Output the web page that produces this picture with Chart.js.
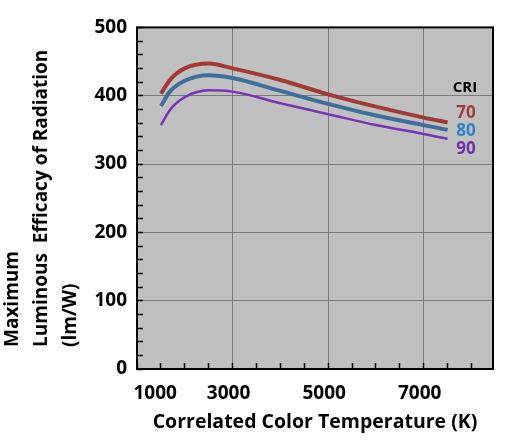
<!DOCTYPE html>
<html>
<head>
<meta charset="utf-8">
<script src="https://cdn.jsdelivr.net/npm/chart.js@4"></script>
<style>
  html, body { margin: 0; padding: 0; background: #fff; }
  #wrap { width: 505px; height: 441px; }
</style>
</head>
<body>
<div id="wrap"><canvas id="grafico"></canvas></div>
<script>
// dados
const temperaturas = [1500, 1700, 2000, 2500, 3000, 4000, 5000, 6000, 7000, 7500];
const cri70 = [403, 424, 440, 447, 440, 423, 402, 384, 368, 361];
const cri80 = [385, 407, 422, 430, 426, 407, 388, 371, 357, 350];
const cri90 = [357, 380, 398, 408, 406, 389, 373, 357, 344, 337];
const rotulosX = [1000, 3000, 5000, 7000];
const rotulosY = [0, 100, 200, 300, 400, 500];
const nomesCri = ['70', '80', '90'];
const coresCri = ['#a23b36', '#3e6e9c', '#7a35b5'];
const coresTexto = ['#a0403c', '#2e82c8', '#7030a8'];

// marcas pequenas dos eixos (a cada 500 K e a cada 20 lm/W)
const marcasX = [];
for (let v = 1000; v <= 8000; v += 500) marcasX.push(v);
const marcasY = [];
for (let v = 0; v <= 500; v += 20) marcasY.push(v);

const fonte = '"Open Sans", sans-serif';

// fundo cinza, moldura, titulo do eixo y e legenda CRI
const extras = {
  id: 'extras',
  beforeDraw(chart) {
    const { ctx, chartArea: a } = chart;
    ctx.save();
    ctx.fillStyle = '#c0c0c0';
    ctx.fillRect(a.left, a.top, a.right - a.left, a.bottom - a.top);
    ctx.restore();
  },
  afterDraw(chart) {
    const { ctx, chartArea: a } = chart;
    ctx.save();
    ctx.strokeStyle = '#000';
    ctx.lineWidth = 2;
    ctx.strokeRect(a.left, a.top, a.right - a.left, a.bottom - a.top);

    // titulo y, tres linhas alinhadas por baixo
    ctx.translate(0, 347);
    ctx.rotate(-Math.PI / 2);
    ctx.fillStyle = '#000';
    ctx.font = 'bold 19px ' + fonte;
    ctx.textAlign = 'left';
    ctx.textBaseline = 'middle';
    ['Maximum', 'Luminous  Efficacy of Radiation', '(lm/W)'].forEach((t, i) => {
      ctx.fillText(t, 0, 13 + i * 29);
    });
    ctx.restore();

    // legenda CRI
    ctx.save();
    ctx.textAlign = 'center';
    ctx.textBaseline = 'middle';
    ctx.font = 'bold 15px ' + fonte;
    ctx.fillStyle = '#000';
    ctx.fillText('CRI', 465, 88);
    ctx.font = 'bold 17px ' + fonte;
    nomesCri.forEach((n, i) => {
      ctx.fillStyle = coresTexto[i];
      ctx.fillText(n, 466, 113 + i * 18);
    });
    ctx.restore();
  }
};

new Chart(document.getElementById('grafico').getContext('2d'), {
  type: 'line',
  data: {
    datasets: [cri70, cri80, cri90].map((serie, i) => ({
      label: 'CRI ' + nomesCri[i],
      data: serie.map((v, j) => ({ x: temperaturas[j], y: v })),
      borderColor: coresCri[i],
      borderWidth: i === 2 ? 2.5 : 4,
      pointRadius: 0,
      cubicInterpolationMode: 'monotone',
      fill: false
    }))
  },
  options: {
    responsive: true,
    maintainAspectRatio: false,
    animation: false,
    layout: { padding: { top: 23, right: 12, left: 0, bottom: 0 } },
    plugins: {
      legend: { display: false },
      tooltip: { enabled: false }
    },
    scales: {
      x: {
        type: 'linear',
        min: 1000,
        max: 8450,
        afterBuildTicks: (s) => { s.ticks = marcasX.map(v => ({ value: v })); },
        afterFit: (s) => { s.height = 72; },
        border: { display: false },
        grid: {
          color: (c) => (c.tick && c.tick.value % 2000 === 1000 && c.tick.value > 1000) ? '#7a7a7a' : 'rgba(0,0,0,0)',
          tickColor: '#000',
          tickLength: -6,
          tickWidth: 1.5
        },
        ticks: {
          autoSkip: false,
          maxRotation: 0,
          padding: 19,
          labelOffset: -4,
          color: '#000',
          font: { family: fonte, size: 19, weight: 'bold' },
          callback: (v) => rotulosX.includes(v) ? (v === 1000 ? '         1000' : String(v)) : ''
        },
        title: {
          display: true,
          text: 'Correlated Color Temperature (K)',
          color: '#000',
          font: { family: fonte, size: 19.5, weight: 'bold' },
          padding: { top: 0, bottom: 7 }
        }
      },
      y: {
        min: 0,
        max: 500,
        afterBuildTicks: (s) => { s.ticks = marcasY.map(v => ({ value: v })); },
        afterFit: (s) => { s.width = 137; },
        border: { display: false },
        grid: {
          color: (c) => (c.tick && c.tick.value % 100 === 0 && c.tick.value > 0 && c.tick.value < 500) ? '#7a7a7a' : 'rgba(0,0,0,0)',
          tickColor: '#000',
          tickLength: -6,
          tickWidth: 1.5
        },
        ticks: {
          autoSkip: false,
          padding: 16,
          color: '#000',
          font: { family: fonte, size: 19, weight: 'bold' },
          callback: (v) => rotulosY.includes(v) ? String(v) : ''
        }
      }
    }
  },
  plugins: [extras]
});
</script>
</body>
</html>
